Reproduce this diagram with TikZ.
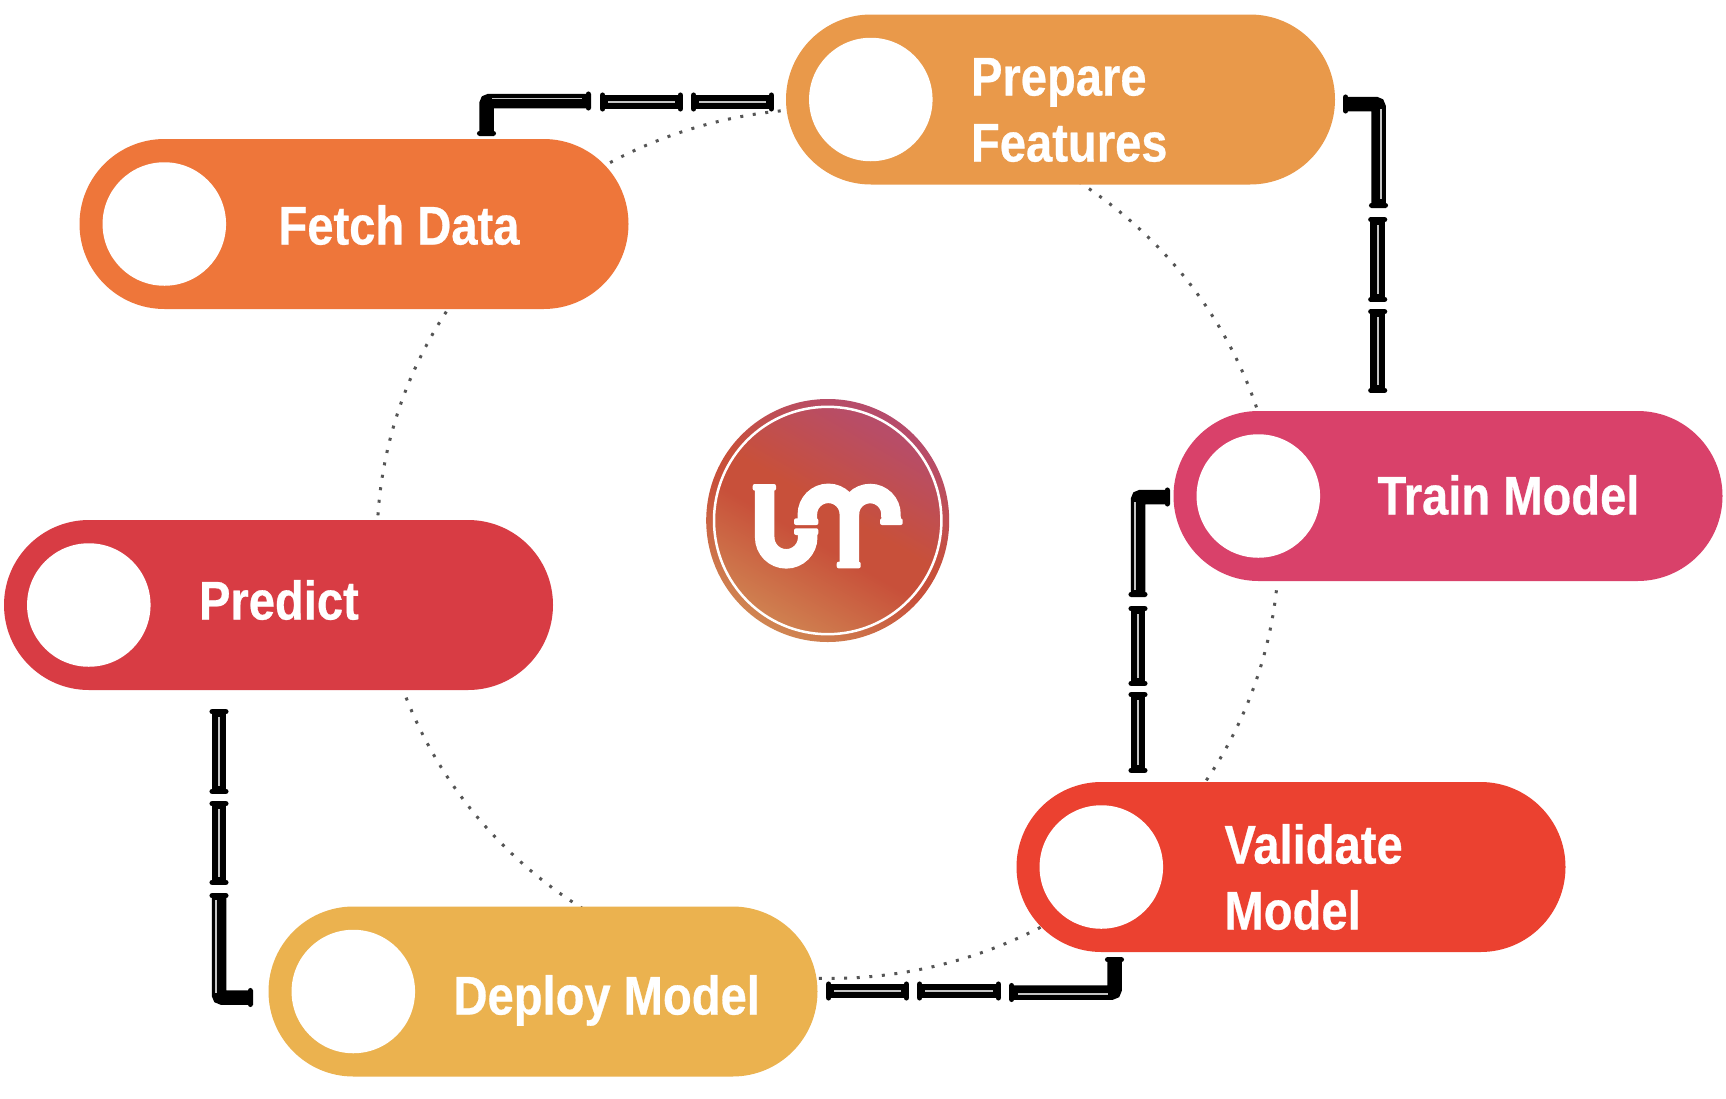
\documentclass[tikz,border=0pt]{standalone}
\usepackage{fontspec}
\setmainfont{Liberation Sans}[FakeStretch=0.865,BoldFeatures={FakeBold=0.5}]
\usetikzlibrary{calc}
\definecolor{cfetch}{HTML}{EE763A}
\definecolor{cprepare}{HTML}{E9994A}
\definecolor{ctrain}{HTML}{D9416A}
\definecolor{cvalidate}{HTML}{EB4130}
\definecolor{cdeploy}{HTML}{EBB24F}
\definecolor{cpredict}{HTML}{D83C44}
\definecolor{ringgrey}{HTML}{555555}
\definecolor{gleamgrey}{HTML}{C4C4C4}
\definecolor{logotop}{HTML}{B64C6C}
\definecolor{logomidhi}{HTML}{B84D66}
\definecolor{logomid}{HTML}{C8503A}
\definecolor{logobot}{HTML}{D08552}
\pgfdeclareverticalshading{logograd}{100bp}{color(0bp)=(logobot); color(25bp)=(logobot); color(45bp)=(logomid); color(52.5bp)=(logomid); color(71bp)=(logomidhi); color(75bp)=(logotop); color(100bp)=(logotop)}
\tikzset{
  pill/.style={rectangle,rounded corners=85pt,minimum width=549pt,minimum height=170pt,inner sep=0pt,fill=#1},
  hole/.style={circle,fill=white,minimum size=123.5pt,inner sep=0pt},
  caption/.style={anchor=base west,inner sep=0pt,text=white,align=left,font=\fontsize{54.5}{66}\selectfont\bfseries},
  pipe/.style={draw=black,line width=14.5pt},
  elbow/.style={pipe,rounded corners=3pt},
  flange/.style={draw=black,line width=5.5pt,line cap=round},
  gleam/.style={draw=gleamgrey,line width=1.8pt},
  dotring/.style={draw=ringgrey,line width=3pt,dash pattern=on 3pt off 9.6pt},
  umstroke/.style={draw=white,line width=19.5pt},
  umflange/.style={fill=white,rounded corners=2pt},
}
\newcommand{\pipeflange}[2]{%
  \draw[flange] ($($(#1)!2.7pt!(#2)$)!6.8pt!90:(#2)$) -- ($($(#1)!2.7pt!(#2)$)!6.8pt!-90:(#2)$);}
\newcommand{\pipeseg}[3][]{%
  \draw[pipe] (#2) -- (#3);
  \pipeflange{#2}{#3}\pipeflange{#3}{#2}
  \draw[gleam,#1] ($(#2)!8pt!(#3)$) -- ($(#3)!8pt!(#2)$);}
\newcommand{\pipebend}[3]{%
  \draw[elbow] (#1) -- (#2) -- (#3);
  \pipeflange{#1}{#2}\pipeflange{#3}{#2}}
\begin{document}
\begin{tikzpicture}[x=1pt,y=-1pt]
\useasboundingbox[fill=white] (0,0) rectangle (1726,1098);
% dotted ring (behind the pills)
\coordinate (ringc) at (828,543.5);
\draw[dotring] (ringc) ellipse [x radius=451pt,y radius=435pt];
% pills
\node[pill=cfetch]    (fetch)    at (354,224)  {};
\node[pill=cprepare]  (prepare)  at (1060.5,99.5)  {};
\node[pill=ctrain]    (train)    at (1448,496) {};
\node[pill=cvalidate] (validate) at (1291,867) {};
\node[pill=cdeploy]   (deploy)   at (543,991.5)  {};
\node[pill=cpredict]  (predict)  at (278.5,605)  {};
\foreach \p in {fetch,prepare,train,validate,deploy,predict}
  \node[hole] (\p hole) at ($(\p.west)+(85,0)$) {};
% captions
\node[caption] (fetchtext)    at ($(fetch.west)+(199,20.5)$) {Fetch Data};
\node[caption] (preparetext)  at ($(prepare.west)+(185,62)$) {Prepare\\Features};
\node[caption] (traintext)    at ($(train.west)+(204,18.5)$) {Train Model};
\node[caption] (validatetext) at ($(validate.west)+(208,62.5)$) {Validate\\Model};
\node[caption] (deploytext)   at ($(deploy.west)+(185,23)$) {Deploy Model};
\node[caption] (predicttext)  at ($(predict.west)+(195,14.5)$) {Predict};
% pipes: fetch -> prepare
\coordinate (fa) at (486.5,136); \coordinate (fb) at (486.5,101); \coordinate (fc) at (591,101);
\coordinate (fd) at (600,102);   \coordinate (fe) at (683,102);
\coordinate (ff) at (691,102);   \coordinate (fg) at (774,102);
\pipebend{fa}{fb}{fc}
\draw[gleam] (492,98.5) -- (582,98.5);
\pipeseg{fd}{fe}
\pipeseg{ff}{fg}
% prepare -> train
\coordinate (pa) at (1343,104); \coordinate (pb) at (1378.5,104); \coordinate (pc) at (1378.5,208);
\coordinate (pd) at (1377.7,217); \coordinate (pe) at (1377.7,302);
\coordinate (pf) at (1377.7,309); \coordinate (pg) at (1377.7,393);
\pipebend{pa}{pb}{pc}
\draw[gleam] (1381,109) -- (1381,199);
\pipeseg[xshift=-2pt]{pd}{pe}
\pipeseg[xshift=-2pt]{pf}{pg}
% train -> validate
\coordinate (ta) at (1170,497); \coordinate (tb) at (1138,497); \coordinate (tc) at (1138,597);
\coordinate (td) at (1138,606); \coordinate (te) at (1138,686);
\coordinate (tf) at (1138,692); \coordinate (tg) at (1138,773);
\pipebend{ta}{tb}{tc}
\draw[gleam] (1135,502) -- (1135,590);
\pipeseg[xshift=1pt]{td}{te}
\pipeseg[xshift=1pt]{tf}{tg}
% validate -> deploy
\coordinate (va) at (1114.5,957); \coordinate (vb) at (1114.5,992.5); \coordinate (vc) at (1009,992.5);
\coordinate (vd) at (1001,991); \coordinate (ve) at (917,991);
\coordinate (vf) at (909,991);  \coordinate (vg) at (826,991);
\pipebend{va}{vb}{vc}
\draw[gleam] (1018,994) -- (1108,994);
\pipeseg{vd}{ve}
\pipeseg{vf}{vg}
% predict -> deploy
\coordinate (da) at (219,709); \coordinate (db) at (219,794);
\coordinate (dc) at (219,801); \coordinate (dd) at (219,885);
\coordinate (de) at (219,893); \coordinate (df) at (219,997.5); \coordinate (dg) at (253,997.5);
\pipeseg[xshift=2pt]{da}{db}
\pipeseg[xshift=2pt]{dc}{dd}
\pipebend{de}{df}{dg}
\draw[gleam] (216,900) -- (216,993);
% logo
\node[circle,minimum size=243pt,inner sep=0pt,shade,shading=logograd,shading angle=-30] (logo) at (827.7,520.5) {};
\draw[white,line width=2.5pt] (logo) circle [radius=113.7pt];
\begin{scope}[shift={(logo)},x=0.33333pt,y=-0.33333pt,shift={(-443,-421.5)}]
  \draw[umstroke] (254,322) -- (254,472) arc[start angle=180,end angle=360,radius=21.5pt] -- (383,455);
  \draw[umstroke] (382,425) -- (382,403) arc[start angle=180,end angle=0,radius=21pt] -- (508,555);
  \draw[umstroke] (508,403) arc[start angle=180,end angle=0,radius=20.8pt] -- (633,425);
  \path[umflange] (218,312) rectangle (288,332);
  \path[umflange] (342,415) rectangle (415,435);
  \path[umflange] (342,445) rectangle (415,465);
  \path[umflange] (470,545) rectangle (542,565);
  \path[umflange] (600,415) rectangle (668,435);
\end{scope}
\end{tikzpicture}
\end{document}
